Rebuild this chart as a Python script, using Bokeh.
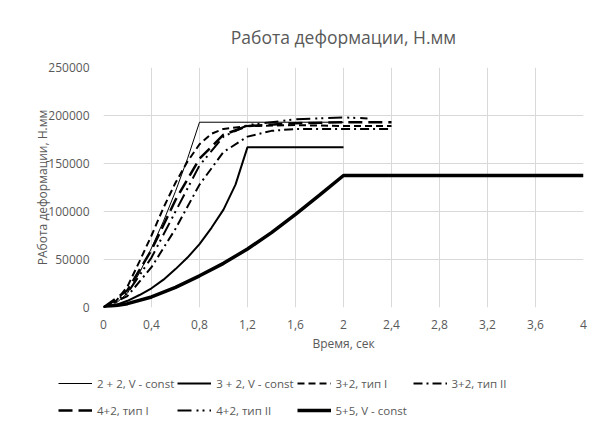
from bokeh.plotting import figure
from bokeh.layouts import column
from bokeh.models import FixedTicker, Legend, LegendItem
from bokeh.embed import file_html
from bokeh.resources import INLINE

# ---- data ----
t_22 = [0, 0.1, 0.2, 0.3, 0.4, 0.5, 0.6, 0.7, 0.8, 2.0]
v_22 = [0, 4000, 15000, 36000, 62000, 90000, 121000, 155000, 193000, 193000]

t_32 = [0, 0.1, 0.2, 0.3, 0.4, 0.5, 0.6, 0.7, 0.8, 0.9, 1.0, 1.1, 1.2, 2.0]
v_32 = [0, 2500, 7000, 13000, 20000, 29000, 40000, 52000, 66000, 83000, 102000, 128000, 167000, 167000]

t_32a = [0, 0.1, 0.2, 0.3, 0.4, 0.5, 0.6, 0.7, 0.8, 0.9, 1.0, 1.2, 1.6, 2.0, 2.4]
v_32a = [0, 6000, 22000, 48000, 75000, 104000, 130000, 152000, 170000, 181000, 186000, 189000, 190000, 189000, 189000]

t_32b = [0, 0.2, 0.4, 0.6, 0.8, 1.0, 1.2, 1.4, 1.6, 2.0, 2.4]
v_32b = [0, 12000, 42000, 82000, 128000, 162000, 178000, 184000, 186000, 186000, 186000]

t_42a = [0, 0.2, 0.4, 0.6, 0.8, 1.0, 1.2, 1.6, 2.0, 2.4]
v_42a = [0, 18000, 60000, 112000, 155000, 180000, 189000, 192000, 193000, 193000]

t_42b = [0, 0.2, 0.4, 0.6, 0.8, 1.0, 1.2, 1.6, 2.0, 2.2]
v_42b = [0, 15000, 52000, 100000, 148000, 178000, 190000, 196000, 198000, 197000]

t_55 = [0, 0.2, 0.4, 0.6, 0.8, 1.0, 1.2, 1.4, 1.6, 1.8, 2.0, 4.0]
v_55 = [0, 4000, 11000, 21000, 33000, 46000, 61000, 78000, 97000, 117000, 137500, 137500]

x_ticks = [0, 0.4, 0.8, 1.2, 1.6, 2.0, 2.4, 2.8, 3.2, 3.6, 4.0]
x_tick_labels = ["0", "0,4", "0,8", "1,2", "1,6", "2", "2,4", "2,8", "3,2", "3,6", "4"]
y_ticks = [0, 50000, 100000, 150000, 200000, 250000]

names = ["2 + 2, V - const", "3 + 2, V - const", "3+2, тип I", "3+2, тип II",
         "4+2, тип I", "4+2, тип II", "5+5, V - const"]

FONT = "Open Sans"
GREY = "#595959"

styles = [
    dict(line_width=1, line_dash="solid"),
    dict(line_width=2, line_dash="solid"),
    dict(line_width=2, line_dash="7 4"),
    dict(line_width=2, line_dash="9 4 2 4"),
    dict(line_width=2.5, line_dash="14 6"),
    dict(line_width=2, line_dash="14 5 2 4 2 5"),
    dict(line_width=3.5, line_dash="solid"),
]
series = [(t_22, v_22), (t_32, v_32), (t_32a, v_32a), (t_32b, v_32b),
          (t_42a, v_42a), (t_42b, v_42b), (t_55, v_55)]

p = figure(width=594, height=363, x_range=(0, 4), y_range=(0, 250000),
           output_backend="svg", toolbar_location=None, frame_align=False,
           min_border_left=103, min_border_right=11, min_border_top=67, min_border_bottom=56)

p.title.text = "Работа деформации, Н.мм"
p.title.align = "center"
p.title.offset = -46
p.title.standoff = 38
p.title.text_font = FONT
p.title.text_font_size = "17.5px"
p.title.text_font_style = "normal"
p.title.text_color = GREY

p.outline_line_color = None
for g in (p.xgrid, p.ygrid):
    g.grid_line_color = "#d9d9d9"
    g.grid_line_width = 1
p.xaxis.ticker = FixedTicker(ticks=x_ticks)
p.yaxis.ticker = FixedTicker(ticks=y_ticks)
p.xaxis.major_label_overrides = {t: l for t, l in zip(x_ticks, x_tick_labels)}
p.yaxis.formatter.use_scientific = False
for ax in (p.xaxis, p.yaxis):
    ax.axis_line_color = None
    ax.major_tick_line_color = None
    ax.minor_tick_line_color = None
    ax.major_label_text_font = FONT
    ax.major_label_text_font_size = "12px"
    ax.major_label_text_color = GREY
    ax.axis_label_text_font = FONT
    ax.axis_label_text_font_size = "12px"
    ax.axis_label_text_font_style = "normal"
    ax.axis_label_text_color = GREY
p.xaxis.axis_label = "Время, сек"
p.yaxis.axis_label = "РАбота деформации, Н.мм"
p.xaxis.major_label_standoff = 6
p.xaxis.axis_label_standoff = 3
p.yaxis.major_label_standoff = 8
p.yaxis.axis_label_standoff = -6

for (t, v), st in zip(series, styles):
    p.line(t, v, line_color="black", **st)

# legend panel below the chart (its lines lie outside its own visible range)
lg = figure(width=594, height=60, x_range=(0, 1), y_range=(-2, -1),
            output_backend="svg", toolbar_location=None, frame_align=False,
            x_axis_location=None, y_axis_location=None,
            min_border=0, outline_line_color=None)
lg.grid.visible = False
lg_lines = [lg.line(t, v, line_color="black", **st) for (t, v), st in zip(series, styles)]
items = [LegendItem(label=n, renderers=[r]) for n, r in zip(names, lg_lines)]
legend = Legend(items=items, orientation="horizontal", ncols=4,
                label_text_font=FONT, label_text_font_size="11.5px", label_text_color=GREY,
                glyph_width=34, glyph_height=24, label_height=24, label_width=74,
                label_standoff=5, spacing=3,
                border_line_color=None, background_fill_alpha=0,
                location=(58, 1), margin=0, padding=4)
lg.add_layout(legend, "center")

layout = column(p, lg, spacing=0)
open("out.html", "w").write(file_html(layout, INLINE))
